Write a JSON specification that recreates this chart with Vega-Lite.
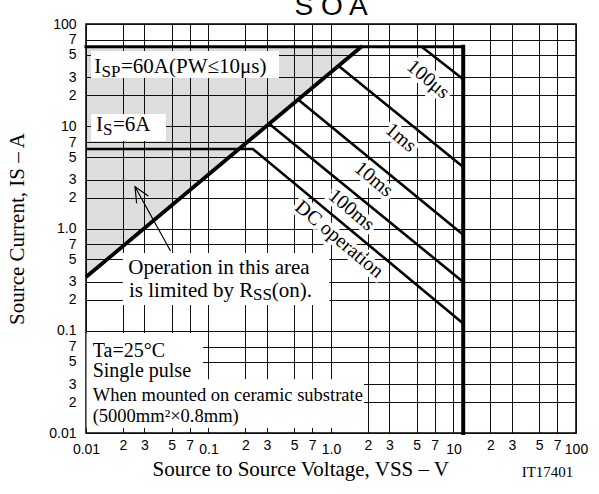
{
  "$schema": "https://vega.github.io/schema/vega-lite/v6.json",
  "width": 490,
  "height": 409,
  "autosize": {"type": "none"},
  "padding": {"left": 86, "top": 24, "right": 23, "bottom": 61},
  "background": "white",
  "title": {"text": "S O A", "font": "Liberation Sans", "fontSize": 28, "fontWeight": "normal", "color": "#000", "offset": 0, "dy": 26, "baseline": "alphabetic"},
  "config": {
    "view": {"stroke": "#000", "strokeWidth": 1.5},
    "axis": {"grid": true, "gridColor": "#111", "gridWidth": 1, "gridOpacity": 1, "ticks": false, "tickSize": 0, "domain": false,
      "labelFont": "Liberation Sans", "labelFontSize": 14, "labelColor": "#000", "labelOverlap": false, "labelFlush": false,
      "titleFont": "Liberation Serif", "titleFontWeight": "normal", "titleColor": "#000"}
  },
  "datasets": {
    "area": [
      {"x": 0.01, "y": 0.335, "y2": 60},
      {"x": 1.8, "y": 60, "y2": 60}
    ],
    "boxes": [
      {"x": 0.01098, "x2": 0.376, "y": 29.6, "y2": 54.4},
      {"x": 0.01098, "x2": 0.045, "y": 7.18, "y2": 13.2},
      {"x": 0.0200, "x2": 0.97, "y": 0.1786, "y2": 0.576},
      {"x": 0.0101, "x2": 0.0902, "y": 0.033, "y2": 0.095},
      {"x": 0.0101, "x2": 1.86, "y": 0.0112, "y2": 0.0335}
    ],
    "lines": [
      {"s": "isp", "k": 0, "x": 0.01, "y": 60},
      {"s": "isp", "k": 1, "x": 12, "y": 60},
      {"s": "vert", "k": 0, "x": 12, "y": 60},
      {"s": "vert", "k": 1, "x": 12, "y": 0.01},
      {"s": "dc", "k": 0, "x": 0.01, "y": 6},
      {"s": "dc", "k": 1, "x": 0.23, "y": 6},
      {"s": "dc", "k": 2, "x": 12, "y": 0.118},
      {"s": "p100ms", "k": 0, "x": 0.318, "y": 10.4},
      {"s": "p100ms", "k": 1, "x": 12, "y": 0.30},
      {"s": "p10ms", "k": 0, "x": 0.551, "y": 17.9},
      {"s": "p10ms", "k": 1, "x": 12, "y": 0.87},
      {"s": "p1ms", "k": 0, "x": 1.17, "y": 38.5},
      {"s": "p1ms", "k": 1, "x": 12, "y": 4.0},
      {"s": "p100us", "k": 0, "x": 5.5, "y": 60},
      {"s": "p100us", "k": 1, "x": 12, "y": 28.8},
      {"s": "rss", "k": 0, "x": 0.01, "y": 0.335},
      {"s": "rss", "k": 1, "x": 1.8, "y": 61},
      {"s": "arrow", "k": 0, "x": 0.049, "y": 0.602},
      {"s": "arrow", "k": 1, "x": 0.02512, "y": 2.564},
      {"s": "head", "k": 0, "x": 0.0259, "y": 1.764},
      {"s": "head", "k": 1, "x": 0.02512, "y": 2.564},
      {"s": "head", "k": 2, "x": 0.0323, "y": 2.08}
    ],
    "curveLabels": [
      {"x": 6.22, "y": 28.8, "t": "100μs"},
      {"x": 3.715, "y": 7.73, "t": "1ms"},
      {"x": 2.232, "y": 3.034, "t": "10ms"},
      {"x": 1.469, "y": 1.517, "t": "100ms"},
      {"x": 1.167, "y": 0.785, "t": "DC operation"}
    ],
    "mainText": [
      {"x": 0.01169, "y": 33.2, "t": "I"},
      {"x": 0.0193, "y": 33.2, "t": "=60A(PW≤10μs)"},
      {"x": 0.01207, "y": 8.99, "t": "I"},
      {"x": 0.01661, "y": 8.99, "t": "=6A"},
      {"x": 0.02214, "y": 0.3565, "t": "Operation in this area"},
      {"x": 0.02244, "y": 0.2153, "t": "is limited by R"},
      {"x": 0.329, "y": 0.2153, "t": "(on)."}
    ],
    "noteText": [
      {"x": 0.01134, "y": 0.05574, "t": "Ta=25°C"},
      {"x": 0.01134, "y": 0.03554, "t": "Single pulse"}
    ],
    "subText": [
      {"x": 0.01338, "y": 29.98, "t": "SP"},
      {"x": 0.01377, "y": 8.21, "t": "S"},
      {"x": 0.2308, "y": 0.1977, "t": "SS"}
    ],
    "smallText": [
      {"x": 0.01134, "y": 0.02056, "t": "When mounted on ceramic substrate"},
      {"x": 0.01134, "y": 0.0129, "t": "(5000mm²×0.8mm)"}
    ],
    "code": [
      {"x": 36.03, "y": 0.003737, "t": "IT17401"}
    ]
  },
  "encoding": {
    "x": {"field": "x", "type": "quantitative",
      "scale": {"type": "log", "domain": [0.01, 100], "nice": false},
      "axis": {
        "values": [0.01, 0.02, 0.03, 0.05, 0.07, 0.1, 0.2, 0.3, 0.5, 0.7, 1, 2, 3, 5, 7, 10, 20, 30, 50, 70, 100],
        "labelExpr": "datum.value == 1 ? '1.0' : datum.value == 0.01 ? '0.01' : datum.value == 0.1 ? '0.1' : datum.value == 10 ? '10' : datum.value == 100 ? '100' : '' + round(datum.value / pow(10, floor(log(datum.value) / LN10 + 1e-6)))",
        "labelBaseline": {"condition": {"test": "indexof([0.01, 0.1, 1, 10, 100], datum.value) >= 0", "value": "middle"}, "value": "alphabetic"},
        "labelPadding": 16,
        "title": "Source to Source Voltage, VSS  –  V",
        "titleFontSize": 21,
        "titleX": 66, "titleY": 42.5, "titleAlign": "left", "titleBaseline": "alphabetic"
      }
    },
    "y": {"field": "y", "type": "quantitative",
      "scale": {"type": "log", "domain": [0.01, 100], "nice": false},
      "axis": {
        "values": [0.01, 0.02, 0.03, 0.05, 0.07, 0.1, 0.2, 0.3, 0.5, 0.7, 1, 2, 3, 5, 7, 10, 20, 30, 50, 70, 100],
        "labelExpr": "datum.value == 1 ? '1.0' : datum.value == 0.01 ? '0.01' : datum.value == 0.1 ? '0.1' : datum.value == 10 ? '10' : datum.value == 100 ? '100' : '' + round(datum.value / pow(10, floor(log(datum.value) / LN10 + 1e-6)))",
        "labelPadding": 10,
        "title": "Source Current, IS – A",
        "titleFontSize": 21,
        "titleX": -63, "titleY": 204.5, "titleAngle": -90, "titleAlign": "center", "titleBaseline": "alphabetic"
      }
    }
  },
  "layer": [
    {"data": {"name": "area"}, "mark": {"type": "area", "fill": "#000", "fillOpacity": 0.135, "stroke": null},
      "encoding": {"y2": {"field": "y2"}}},
    {"data": {"name": "boxes"}, "mark": {"type": "rect", "fill": "white", "stroke": null},
      "encoding": {"x2": {"field": "x2"}, "y2": {"field": "y2"}}},
    {"data": {"name": "lines"}, "transform": [{"filter": {"field": "s", "oneOf": ["dc", "p100ms", "p10ms", "p1ms", "p100us"]}}],
      "mark": {"type": "line", "color": "#000", "strokeWidth": 2.6},
      "encoding": {"detail": {"field": "s"}, "order": {"field": "k", "type": "quantitative"}}},
    {"data": {"name": "lines"}, "transform": [{"filter": {"field": "s", "equal": "isp"}}],
      "mark": {"type": "line", "color": "#000", "strokeWidth": 3, "strokeCap": "square"},
      "encoding": {"order": {"field": "k", "type": "quantitative"}}},
    {"data": {"name": "lines"}, "transform": [{"filter": {"field": "s", "equal": "vert"}}],
      "mark": {"type": "line", "color": "#000", "strokeWidth": 4, "strokeCap": "square"},
      "encoding": {"order": {"field": "k", "type": "quantitative"}}},
    {"data": {"name": "lines"}, "transform": [{"filter": {"field": "s", "equal": "rss"}}],
      "mark": {"type": "line", "color": "#000", "strokeWidth": 3.8},
      "encoding": {"order": {"field": "k", "type": "quantitative"}}},
    {"data": {"name": "lines"}, "transform": [{"filter": {"field": "s", "oneOf": ["arrow", "head"]}}],
      "mark": {"type": "line", "color": "#000", "strokeWidth": 1.2},
      "encoding": {"detail": {"field": "s"}, "order": {"field": "k", "type": "quantitative"}}},
    {"data": {"name": "curveLabels"},
      "mark": {"type": "text", "angle": 40, "font": "Liberation Serif", "fontSize": 20, "fill": "white", "stroke": "white", "strokeWidth": 8, "strokeJoin": "round", "align": "center", "baseline": "middle"},
      "encoding": {"text": {"field": "t"}}},
    {"data": {"name": "curveLabels"},
      "mark": {"type": "text", "angle": 40, "font": "Liberation Serif", "fontSize": 20, "color": "#000", "align": "center", "baseline": "middle"},
      "encoding": {"text": {"field": "t"}}},
    {"data": {"name": "mainText"},
      "mark": {"type": "text", "font": "Liberation Serif", "fontSize": 21, "color": "#000", "align": "left", "baseline": "alphabetic"},
      "encoding": {"text": {"field": "t"}}},
    {"data": {"name": "noteText"},
      "mark": {"type": "text", "font": "Liberation Serif", "fontSize": 20, "color": "#000", "align": "left", "baseline": "alphabetic"},
      "encoding": {"text": {"field": "t"}}},
    {"data": {"name": "subText"},
      "mark": {"type": "text", "font": "Liberation Serif", "fontSize": 17, "color": "#000", "align": "left", "baseline": "alphabetic"},
      "encoding": {"text": {"field": "t"}}},
    {"data": {"name": "smallText"},
      "mark": {"type": "text", "font": "Liberation Serif", "fontSize": 18.5, "color": "#000", "align": "left", "baseline": "alphabetic"},
      "encoding": {"text": {"field": "t"}}},
    {"data": {"name": "code"},
      "mark": {"type": "text", "font": "Liberation Serif", "fontSize": 15, "color": "#000", "align": "left", "baseline": "alphabetic"},
      "encoding": {"text": {"field": "t"}}}
  ]
}
